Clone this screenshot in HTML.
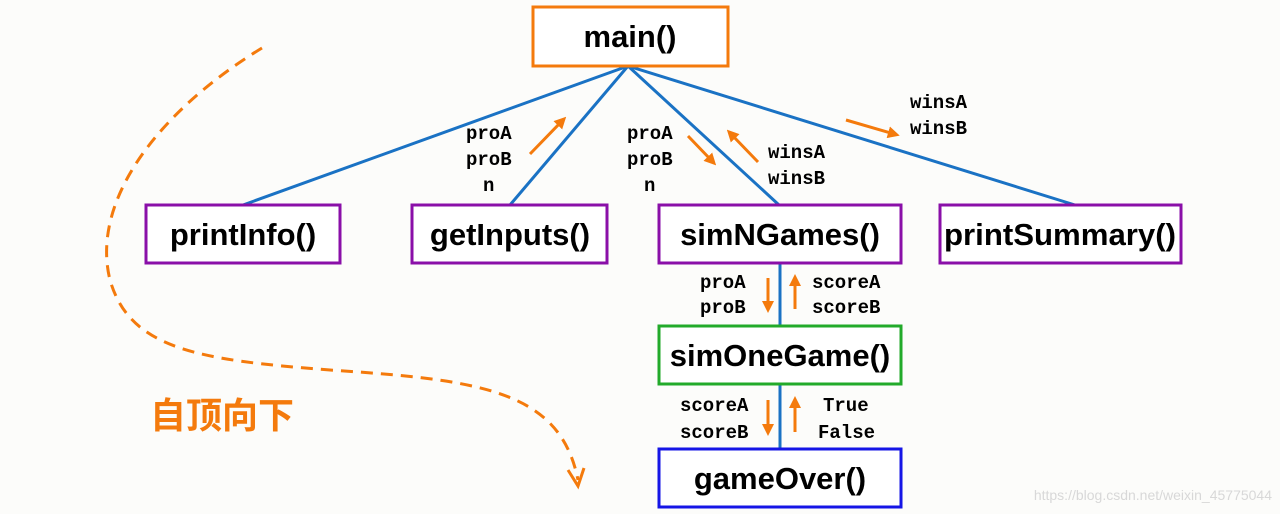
<!DOCTYPE html>
<html><head><meta charset="utf-8"><style>
body{margin:0;background:#fcfcfa;}
svg{display:block}
.b{font-family:"Liberation Sans","DejaVu Sans",sans-serif;font-weight:bold;font-size:31px;fill:#000;text-anchor:middle}
.m{font-family:"Liberation Mono","DejaVu Sans Mono",monospace;font-weight:bold;font-size:19px;fill:#000}
</style></head><body>
<svg width="1280" height="514" viewBox="0 0 1280 514" xmlns="http://www.w3.org/2000/svg">
<defs>
<marker id="a" markerWidth="12" markerHeight="12" refX="6" refY="6" orient="auto" markerUnits="userSpaceOnUse"><path d="M0,0 L12,6 L0,12 z" fill="#f47a0c"/></marker>
</defs>
<rect width="1280" height="514" fill="#fcfcfa"/>
<g stroke="#1a72c4" stroke-width="3" fill="none">
<line x1="628" y1="66" x2="243" y2="205"/>
<line x1="628" y1="66" x2="510" y2="205"/>
<line x1="628" y1="66" x2="779" y2="205"/>
<line x1="628" y1="66" x2="1075" y2="205"/>
<line x1="780" y1="263" x2="780" y2="325"/>
<line x1="780" y1="384" x2="780" y2="448"/>
</g>
<path d="M262,48 C160,110 90,200 110,280 C130,350 200,360 330,370 C480,380 560,390 578,480" stroke="#f47a0c" stroke-width="3" stroke-dasharray="12,8" fill="none"/>
<path d="M568,470 L578,486 L584,468" stroke="#f47a0c" stroke-width="3" fill="none"/>
<g stroke="#f47a0c" stroke-width="3" marker-end="url(#a)">
<line x1="530" y1="154" x2="562" y2="121"/>
<line x1="688" y1="136" x2="712" y2="161"/>
<line x1="758" y1="162" x2="731" y2="134"/>
<line x1="846" y1="120" x2="894" y2="134"/>
<line x1="768" y1="278" x2="768" y2="307"/>
<line x1="795" y1="309" x2="795" y2="280"/>
<line x1="768" y1="400" x2="768" y2="430"/>
<line x1="795" y1="432" x2="795" y2="402"/>
</g>
<g fill="#fff" stroke-width="3">
<rect x="533" y="7" width="195" height="59" stroke="#f47a0c"/>
<rect x="146" y="205" width="194" height="58" stroke="#8a0fa8"/>
<rect x="412" y="205" width="195" height="58" stroke="#8a0fa8"/>
<rect x="659" y="205" width="242" height="58" stroke="#8a0fa8"/>
<rect x="940" y="205" width="241" height="58" stroke="#8a0fa8"/>
<rect x="659" y="326" width="242" height="58" stroke="#22aa2a"/>
<rect x="659" y="449" width="242" height="58" stroke="#1515e6"/>
</g>
<text class="b" x="630" y="47">main()</text>
<text class="b" x="243" y="245">printInfo()</text>
<text class="b" x="510" y="245">getInputs()</text>
<text class="b" x="780" y="245">simNGames()</text>
<text class="b" x="1060" y="245" textLength="232" lengthAdjust="spacingAndGlyphs">printSummary()</text>
<text class="b" x="780" y="366">simOneGame()</text>
<text class="b" x="780" y="489">gameOver()</text>
<g class="m">
<text x="466" y="139">proA</text><text x="466" y="165">proB</text><text x="483" y="191">n</text>
<text x="627" y="139">proA</text><text x="627" y="165">proB</text><text x="644" y="191">n</text>
<text x="768" y="158">winsA</text><text x="768" y="184">winsB</text>
<text x="910" y="108">winsA</text><text x="910" y="134">winsB</text>
<text x="700" y="288">proA</text><text x="700" y="313">proB</text>
<text x="812" y="288">scoreA</text><text x="812" y="313">scoreB</text>
<text x="680" y="411">scoreA</text><text x="680" y="438">scoreB</text>
<text x="823" y="411">True</text><text x="818" y="438">False</text>
</g>
<text x="150" y="428" font-family="'Noto Sans CJK SC',sans-serif" font-weight="bold" font-size="36" fill="#f47a0c">自顶向下</text>
<text x="1272" y="500" text-anchor="end" font-family="'Liberation Sans',sans-serif" font-size="14" fill="#d8d8d8">https://blog.csdn.net/weixin_45775044</text>
</svg>
</body></html>
